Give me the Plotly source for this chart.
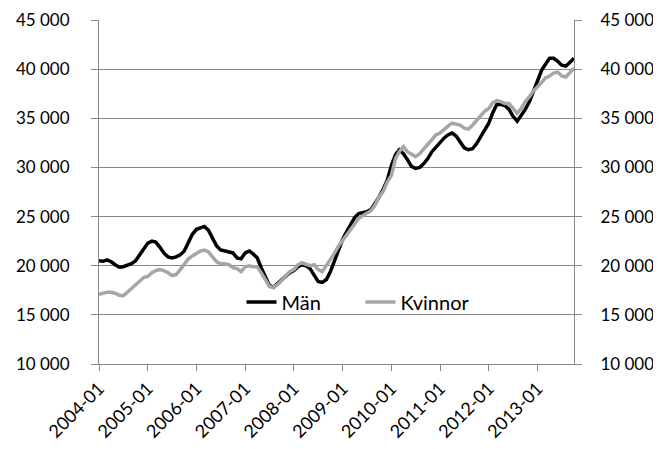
import pandas as pd
import plotly.graph_objects as go

months = pd.date_range("2004-01-01", periods=118, freq="MS").strftime("%Y-%m-%d").tolist()

man = [
    20500, 20450, 20600, 20400, 20100, 19850, 19900, 20050, 20200, 20500, 21100, 21800,
    22300, 22500, 22400, 21900, 21300, 20900, 20800, 20900, 21100, 21500, 22400, 23200,
    23700, 23900, 24000, 23600, 22800, 22000, 21600, 21500, 21400, 21300, 20800, 20700,
    21300, 21500, 21200, 20800, 19800, 18800, 18000, 17800, 18200, 18600, 19000, 19300,
    19500, 19900, 20100, 20000, 19700, 19000, 18400, 18300, 18600, 19400, 20500, 21600,
    22700, 23500, 24200, 24900, 25300, 25400, 25500, 25700, 26300, 27000, 27800, 28700,
    30200, 31300, 31800, 31400, 30800, 30100, 29900, 30000, 30400, 30900, 31600, 32100,
    32500, 33000, 33300, 33500, 33200, 32600, 32000, 31800, 31900, 32400, 33100, 33800,
    34500, 35600, 36400, 36400, 36300, 35900, 35200, 34700, 35300, 35900, 36700, 37700,
    38800, 39900, 40500, 41100, 41100, 40800, 40400, 40300, 40700, 41100,
]

kvinnor = [
    17100, 17200, 17300, 17300, 17200, 17000, 16950, 17300, 17700, 18000, 18400, 18800,
    18900, 19300, 19500, 19600, 19500, 19300, 19000, 19100, 19600, 20200, 20700, 21000,
    21300, 21500, 21600, 21400, 20900, 20400, 20200, 20200, 20100, 19800, 19700, 19400,
    19900, 20000, 19900, 19900, 19300, 18500, 17900, 17800, 18100, 18500, 18900, 19400,
    19600, 20100, 20300, 20100, 20000, 20100, 19600, 19400, 20000, 20600, 21300, 22000,
    22600, 23200, 23700, 24200, 24800, 25100, 25300, 25600, 26200, 27000, 27600, 28500,
    29200, 30900, 31600, 32100, 31600, 31300, 31100, 31400, 31900, 32400, 32900, 33300,
    33500, 33900, 34200, 34500, 34400, 34300, 34000, 33900, 34300, 34800, 35300, 35700,
    36000, 36600, 36800, 36700, 36500, 36500, 36000, 35500, 36000, 36700, 37200, 37800,
    38200, 38700, 39100, 39300, 39600, 39700, 39300, 39200, 39600, 40100,
]

y_ticks = [10000, 15000, 20000, 25000, 30000, 35000, 40000, 45000]
y_range = [10000, 45000]

GRID = "#888888"
FONT = dict(family="Lato", size=17, color="#000000")

fig = go.Figure()
fig.add_trace(go.Scatter(x=months, y=man, name="Män", mode="lines",
                         line=dict(color="#000000", width=3.5), yaxis="y"))
fig.add_trace(go.Scatter(x=months, y=kvinnor, name="Kvinnor", mode="lines",
                         line=dict(color="#a6a6a6", width=3.5), yaxis="y2"))

axis_common = dict(range=y_range, tickvals=y_ticks, tickformat=",d",
                   ticks="outside", ticklen=7, tickcolor=GRID,
                   showline=True, linecolor=GRID, linewidth=1,
                   tickfont=FONT, zeroline=False, automargin=False)

# page body has an 8px default margin, so the figure is sized to fit the window
fig.update_layout(
    width=653, height=441,
    margin=dict(l=91, r=87, t=12, b=85),
    paper_bgcolor="white", plot_bgcolor="white",
    separators=", ",
    showlegend=True,
    legend=dict(orientation="h", x=0.30, y=0.18, xanchor="left", yanchor="middle",
                bgcolor="rgba(0,0,0,0)",
                font=dict(family="Lato", size=20, color="#000000"),
                itemwidth=30, traceorder="normal",
                entrywidth=74, entrywidthmode="pixels"),
    xaxis=dict(type="date", range=[months[0], months[-1]],
               tick0="2004-01-01", dtick="M12", tickformat="%Y-%m",
               tickangle=-45, ticks="outside", ticklen=6, tickcolor=GRID,
               showline=True, linecolor=GRID, linewidth=1, showgrid=False,
               tickfont=dict(family="Lato", size=18, color="#000000"),
               automargin=False),
    yaxis=dict(**axis_common, showgrid=True, gridcolor=GRID, gridwidth=1,
               ticklabelstandoff=18),
    yaxis2=dict(**axis_common, overlaying="y", side="right", showgrid=False,
                ticklabelstandoff=15),
)

fig.write_html("out.html")
